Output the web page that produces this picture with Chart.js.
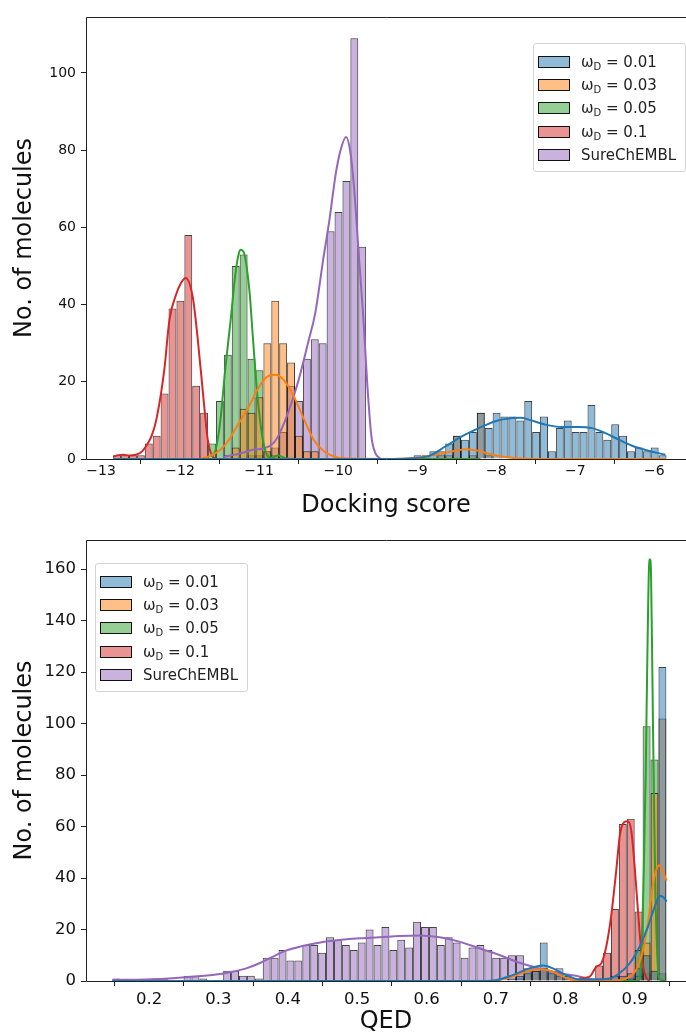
<!DOCTYPE html>
<html>
<head>
<meta charset="utf-8">
<script src="https://cdn.jsdelivr.net/npm/chart.js@4.4.1/dist/chart.umd.min.js"></script>
<style>
html,body{margin:0;padding:0;background:#fff;}
#wrap{position:relative;width:686px;height:1036px;overflow:hidden;background:#fff;}
.panel{position:absolute;left:0;width:686px;}
#p1{top:0;height:520px;}
#p2{top:520px;height:516px;}
canvas{display:block;}
.legend{position:absolute;box-sizing:border-box;background:rgba(255,255,255,0.8);border:1px solid #d4d4d4;border-radius:3px;padding:6px 0 4px 0;font-family:'DejaVu Sans',sans-serif;font-size:15px;color:#222;white-space:nowrap;}
.legend .row{display:flex;align-items:center;height:23.4px;}
.legend .sw{box-sizing:border-box;width:32px;height:12px;border:1.6px solid #111;margin:0 11px 0 4px;flex:none;}
.legend sub{font-size:10px;vertical-align:-3px;line-height:0;}
</style>
</head>
<body>
<div id="wrap">
  <div class="panel" id="p1"><canvas id="c1" width="686" height="520"></canvas></div>
  <div class="panel" id="p2"><canvas id="c2" width="686" height="516"></canvas></div>
  <div class="legend" id="leg1" style="left:533px;top:43px;width:153px;"></div>
  <div class="legend" id="leg2" style="left:95px;top:563px;width:153px;"></div>
</div>
<script>
// ---------------- data ----------------
const legendValues = ['0.01', '0.03', '0.05', '0.1'];
const refLabel = 'SureChEMBL';

// Top panel: docking score histograms (common bins)
const dockBinStart = -12.846;
const dockBinWidth = 0.1;
const dockXTicks = [-13, -12, -11, -10, -9, -8, -7, -6];
const dockYTicks = [0, 20, 40, 60, 80, 100];
const dock001First = 38;
const dock001Counts = [1,1,2,2,4,6,5,7,12,8,12,11,11,10,15,7,11,2,8,10,7,7,14,7,5,9,6,2,3,2,3,1];
const dock003First = 14;
const dock003Counts = [1,3,13,12,16,30,41,30,25,6,2,2,0,0,0,0,0,0,0,0,0,0,0,0,0,0,0,1,1,6,0,1,12,1];
const dock005First = 12;
const dock005Counts = [4,15,27,50,53,26,23,2,1];
const dock01First = 0;
const dock01Counts = [1,1,1,1,4,6,17,39,41,58,19,12];
const dockRefFirst = 17;
const dockRefCounts = [1,1,2,3,7,19,15,26,31,30,59,64,72,109,55];

// Top panel KDE curves [x, count]
const dock001Kde = [[-12.846,0],[-9.3,0],[-9.06,0.2],[-8.85,0.8],[-8.64,3.3],[-8.43,5.9],[-8.22,8],[-8.01,9.8],[-7.8,10.6],[-7.69,10.7],[-7.59,10.2],[-7.38,8.9],[-7.17,8.3],[-6.96,8.3],[-6.79,8],[-6.62,6.7],[-6.45,5],[-6.29,3.5],[-6.12,2.4],[-5.86,1.1]];
const dock003Kde = [[-11.74,0],[-11.62,0.8],[-11.49,2.4],[-11.38,5],[-11.28,8.5],[-11.15,12.8],[-11.02,18],[-10.92,21],[-10.8,21.8],[-10.69,20.5],[-10.56,16.2],[-10.43,10.2],[-10.31,5],[-10.18,2],[-10.01,0.4],[-9.89,0.1],[-9.3,0],[-9.06,0.2],[-8.85,0.8],[-8.64,1.6],[-8.5,2.2],[-8.37,2.5],[-8.22,2.1],[-8.09,1.3],[-7.88,0.5],[-7.68,0.1],[-7.4,0],[-5.85,0]];
const dock005Kde = [[-11.6,0.5],[-11.55,2.4],[-11.49,10],[-11.43,23],[-11.36,36],[-11.3,48],[-11.26,53],[-11.23,54.2],[-11.18,52.5],[-11.12,43],[-11.08,31.8],[-11.02,16],[-10.96,5.9],[-10.91,1.5],[-10.85,0.3],[-10.76,0.9],[-10.67,0.2],[-10.55,0],[-8.2,0]];
const dock01Kde = [[-12.846,0.6],[-12.78,1.0],[-12.72,1.1],[-12.64,0.9],[-12.56,1.1],[-12.5,1.6],[-12.43,3.3],[-12.36,6],[-12.3,10.2],[-12.2,23],[-12.135,36],[-12.05,42.6],[-11.99,45.5],[-11.93,46.9],[-11.84,42],[-11.78,31.8],[-11.71,17],[-11.65,5],[-11.59,0.7],[-11.55,0.2]];
const dockRefKde = [[-11.45,0.5],[-11.23,1.5],[-11.08,2.4],[-10.93,2.8],[-10.82,4.1],[-10.74,6.7],[-10.62,12.8],[-10.5,20.5],[-10.37,31],[-10.29,37.8],[-10.19,51.6],[-10.11,62],[-10.03,74],[-9.97,80],[-9.9,83.4],[-9.85,80],[-9.8,70.6],[-9.74,53],[-9.68,36],[-9.63,18.8],[-9.58,5.9],[-9.53,1.5],[-9.47,0.2]];

// Bottom panel: QED histograms (common bins)
const qedBinStart = 0.147;
const qedBinWidth = 0.01141;
const qedXTicks = [0.2, 0.3, 0.4, 0.5, 0.6, 0.7, 0.8, 0.9];
const qedYTicks = [0, 20, 40, 60, 80, 100, 120, 140, 160];
const qed001First = 50;
const qed001Counts = [1,2,4,4,15,4,3,2,1,0,0,1,1,2,2,3,5,10,4,122];
const qed003First = 51;
const qed003Counts = [1,3,4,5,3,2,1,0,0,0,0,0,0,0,1,2,15,73,102];
const qed005First = 65;
const qed005Counts = [1,12,99,86,3];
const qed01First = 59;
const qed01Counts = [1,1,6,11,28,61,63,27,3];
const qedRefFirst = 0;
const qedRefCounts = [1,0,0,0,0,1,1,0,0,2,2,1,0,0,4,4,2,2,1,9,9,12,8,8,14,14,11,17,16,14,12,15,20,14,21,12,16,13,23,21,21,14,17,15,9,13,14,12,9,9,10,10,5,5,5,4,5,2,1,1];

// Bottom panel KDE curves [x, count]
const qed001Kde = [[0.147,0],[0.68,0],[0.70,0.3],[0.724,2.3],[0.744,4.5],[0.758,5.6],[0.768,6],[0.782,4.9],[0.801,2.3],[0.821,0.6],[0.84,0.6],[0.864,1],[0.878,3],[0.893,6.9],[0.907,13.3],[0.919,21],[0.929,28.9],[0.936,33],[0.941,32.7],[0.946,30.8]];
const qed003Kde = [[0.70,0],[0.724,1.7],[0.744,3.6],[0.76,4.5],[0.77,4.5],[0.782,3.6],[0.797,1.7],[0.811,0.4],[0.825,0],[0.87,0.2],[0.888,1],[0.902,4.3],[0.912,12],[0.919,22.4],[0.926,36.6],[0.931,43],[0.935,45],[0.94,43],[0.946,39]];
const qed005Kde = [[0.86,0],[0.9048,0],[0.9097,9.4],[0.913,41.8],[0.9159,80.6],[0.9183,126],[0.9207,161],[0.9221,163.8],[0.9236,158],[0.9255,119.5],[0.9279,67.7],[0.9303,28.9],[0.9327,9.4],[0.9346,1.7],[0.9385,0.4],[0.9457,0]];
const qed01Kde = [[0.82,1],[0.835,1.7],[0.845,5.6],[0.852,6.9],[0.859,13.3],[0.866,25],[0.873,41.8],[0.879,57.3],[0.886,61.9],[0.89,62.1],[0.895,58.6],[0.9,44.4],[0.905,26.3],[0.91,10.1],[0.915,2.3],[0.921,0]];
const qedRefKde = [[0.147,0.4],[0.195,0.6],[0.243,1.3],[0.291,2.3],[0.32,3.6],[0.34,4.9],[0.359,6.9],[0.378,9.4],[0.397,11.8],[0.421,13.6],[0.445,14.9],[0.474,15.9],[0.503,16.6],[0.532,17],[0.561,17.5],[0.59,17.7],[0.619,17],[0.647,15.3],[0.676,12.7],[0.705,10.1],[0.734,7.1],[0.763,4.9],[0.792,3],[0.821,1.7],[0.84,0.6],[0.859,0.1]];

// ---------------- styling ----------------
const LINE = ['#1f77b4', '#ff7f0e', '#2ca02c', '#d62728', '#9467bd'];
const FILL = ['rgba(31,119,180,0.5)', 'rgba(255,127,14,0.5)', 'rgba(44,160,44,0.5)', 'rgba(214,39,40,0.5)', 'rgba(148,103,189,0.5)'];
const EDGE = 'rgba(20,20,20,0.8)';
const AXIS = '#222';

Chart.defaults.font.family = "'DejaVu Sans', sans-serif";
Chart.defaults.color = '#111';

function histData(start, width, first, counts) {
  return counts.map((c, k) => ({ x: start + (first + k + 0.5) * width, y: c === 0 ? null : c }));
}
function kdeData(pts) { return pts.map(p => ({ x: p[0], y: p[1] })); }

const spines = {
  id: 'spines',
  afterDatasetsDraw(chart) {
    const { ctx, chartArea: a } = chart;
    ctx.save();
    ctx.strokeStyle = AXIS;
    ctx.lineWidth = 1;
    ctx.beginPath();
    ctx.moveTo(Math.round(a.left) + 0.5, Math.round(a.bottom) + 0.5);
    ctx.lineTo(Math.round(a.left) + 0.5, Math.round(a.top) + 0.5);
    ctx.lineTo(Math.round(a.right) + 0.5, Math.round(a.top) + 0.5);
    ctx.lineTo(Math.round(a.right) + 0.5, Math.round(a.bottom) + 0.5);
    ctx.closePath();
    ctx.stroke();
    ctx.restore();
  }
};

function makeChart(id, p) {
  // first entry is drawn on top (Chart.js draws lower dataset index last)
  const hists = [
    [p.d001, 0], [p.d003, 1], [p.d005, 2], [p.d01, 3], [p.ref, 4]
  ];
  const datasets = [];
  hists.forEach(([h, ci]) => {
    datasets.push({
      type: 'line',
      data: kdeData(h.kde),
      borderColor: LINE[ci],
      borderWidth: 2,
      pointRadius: 0,
      fill: false,
      cubicInterpolationMode: 'monotone',
      order: 1
    });
  });
  hists.forEach(([h, ci]) => {
    datasets.push({
      type: 'bar',
      data: histData(p.binStart, p.binWidth, h.first, h.counts),
      backgroundColor: FILL[ci],
      borderColor: EDGE,
      borderWidth: 1,
      grouped: false,
      barPercentage: 1,
      categoryPercentage: 1,
      inflateAmount: 0,
      order: 2
    });
  });
  return new Chart(document.getElementById(id), {
    type: 'bar',
    data: { datasets },
    plugins: [spines],
    options: {
      responsive: false,
      animation: false,
      events: [],
      layout: { padding: { top: p.padTop, left: 0, right: 0, bottom: 0 } },
      plugins: { legend: { display: false }, tooltip: { enabled: false } },
      scales: {
        x: {
          type: 'linear',
          offset: false,
          min: p.xMin, max: p.xMax,
          afterBuildTicks: s => { s.ticks = p.xTicks.map(v => ({ value: v })); },
          afterFit: s => { s.height = p.xAxisH; },
          grid: { display: true, drawOnChartArea: false, drawTicks: true, tickLength: 5, tickColor: AXIS, tickWidth: 1 },
          border: { display: false },
          ticks: { font: { size: p.tickSize }, color: '#111', padding: p.xTickPad, maxRotation: 0, autoSkip: false, callback: p.fmt },
          title: { display: true, text: p.xTitle, font: { size: 24 }, color: '#111', padding: { top: 0, bottom: 0 } }
        },
        y: {
          type: 'linear',
          min: 0, max: p.yMax,
          afterBuildTicks: s => { s.ticks = p.yTicks.map(v => ({ value: v })); },
          afterFit: s => { s.width = 86; },
          grid: { display: true, drawOnChartArea: false, drawTicks: true, tickLength: 5, tickColor: AXIS, tickWidth: 1 },
          border: { display: false },
          ticks: { font: { size: p.tickSize }, color: '#111', padding: 5, autoSkip: false, callback: v => String(v) },
          title: { display: true, text: 'No. of molecules', font: { size: 24 }, color: '#111', padding: { top: 10, bottom: 0 } }
        }
      }
    }
  });
}

makeChart('c1', {
  binStart: dockBinStart, binWidth: dockBinWidth,
  d001: { first: dock001First, counts: dock001Counts, kde: dock001Kde },
  d003: { first: dock003First, counts: dock003Counts, kde: dock003Kde },
  d005: { first: dock005First, counts: dock005Counts, kde: dock005Kde },
  d01: { first: dock01First, counts: dock01Counts, kde: dock01Kde },
  ref: { first: dockRefFirst, counts: dockRefCounts, kde: dockRefKde },
  xMin: -13.19, xMax: -5.6, yMax: 114.5,
  xTicks: dockXTicks, yTicks: dockYTicks,
  padTop: 17, xAxisH: 61, tickSize: 14, xTickPad: -1,
  xTitle: 'Docking score',
  fmt: v => (v < 0 ? '\u2212' : '') + Math.abs(v)
});

makeChart('c2', {
  binStart: qedBinStart, binWidth: qedBinWidth,
  d001: { first: qed001First, counts: qed001Counts, kde: qed001Kde },
  d003: { first: qed003First, counts: qed003Counts, kde: qed003Kde },
  d005: { first: qed005First, counts: qed005Counts, kde: qed005Kde },
  d01: { first: qed01First, counts: qed01Counts, kde: qed01Kde },
  ref: { first: qedRefFirst, counts: qedRefCounts, kde: qedRefKde },
  xMin: 0.109, xMax: 0.974, yMax: 171.3,
  xTicks: qedXTicks, yTicks: qedYTicks,
  padTop: 20, xAxisH: 55, tickSize: 16.5, xTickPad: 4,
  xTitle: 'QED',
  fmt: v => Number(v).toFixed(1)
});

// legends (HTML so the subscript stays real text)
function buildLegend(id) {
  const el = document.getElementById(id);
  const rows = legendValues.map((v, i) => ({ html: '\u03c9<sub>D</sub> = ' + v, c: i }));
  rows.push({ html: refLabel, c: 4 });
  rows.forEach(r => {
    const row = document.createElement('div');
    row.className = 'row';
    const sw = document.createElement('span');
    sw.className = 'sw';
    sw.style.background = FILL[r.c];
    const t = document.createElement('span');
    t.innerHTML = r.html;
    row.appendChild(sw);
    row.appendChild(t);
    el.appendChild(row);
  });
}
buildLegend('leg1');
buildLegend('leg2');
</script>
</body>
</html>
